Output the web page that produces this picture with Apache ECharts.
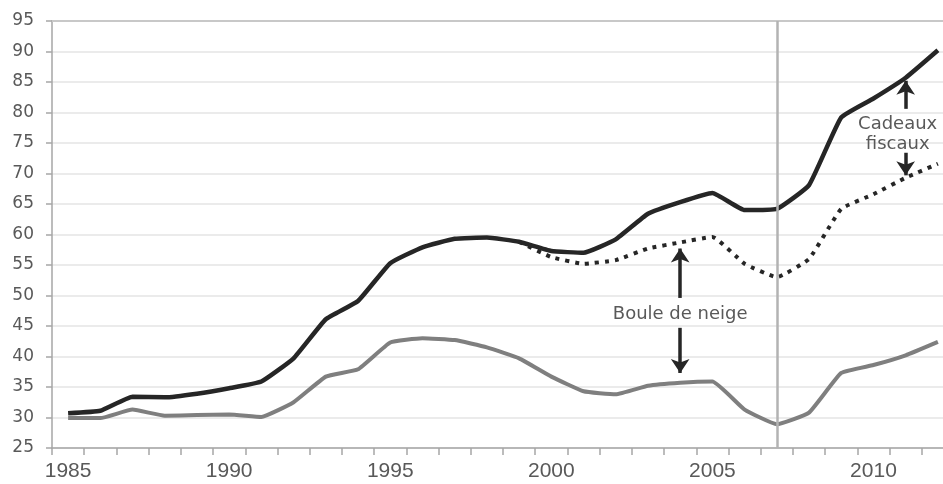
<!DOCTYPE html>
<html>
<head>
<meta charset="utf-8">
<script src="https://cdn.jsdelivr.net/npm/echarts@6/dist/echarts.min.js"></script>
<style>
html,body{margin:0;padding:0;background:#fff;overflow:hidden;width:943px;height:484px;}
#chart{width:954px;height:484px;}
</style>
</head>
<body>
<div id="chart"></div>
<script>
const years = ['1985','1986','1987','1988','1989','1990','1991','1992','1993','1994','1995','1996','1997','1998','1999','2000','2001','2002','2003','2004','2005','2006','2007','2008','2009','2010','2011','2012'];
const detteReelle = [30.7,31.1,33.4,33.3,33.9,34.8,35.9,39.7,46.1,49.1,55.3,57.9,59.3,59.5,58.8,57.3,57.0,59.2,63.4,65.3,66.8,64.0,64.2,68.1,79.2,82.3,85.7,90.2];
const detteSansCadeaux = [null,null,null,null,null,null,null,null,null,null,null,null,null,null,58.8,56.3,55.2,55.8,57.7,58.7,59.6,55.2,53.0,56.0,64.2,66.6,69.3,71.6];
const detteSansBoule = [29.9,29.9,31.3,30.3,30.4,30.5,30.1,32.5,36.7,37.9,42.3,43.0,42.7,41.5,39.7,36.7,34.3,33.8,35.2,35.7,35.9,31.3,28.9,30.8,37.3,38.6,40.2,42.4];
const yTicks = [25,95,5];
const separatorYear = '2007';
// annotation arrows: [year, from, to]
const arrows = [['2004',49.6,57.7],['2004',44.7,37.3],['2011',80.6,85.2],['2011',73.4,69.7]];
const labels = [['2004',46.9,'Boule de neige'],['2011',76.5,'Cadeaux\nfiscaux']];

const chart = echarts.init(document.getElementById('chart'));
const textColor = '#595959';
const font = 'DejaVu Sans';
chart.setOption({
  animation:false,
  grid:{left:52,top:21,right:0,bottom:36,containLabel:false},
  xAxis:[{
    type:'category',
    data:years,
    boundaryGap:true,
    axisLine:{lineStyle:{color:'#a6a6a6',width:1.5}},
    axisTick:{show:true,interval:0,length:7,lineStyle:{color:'#a6a6a6',width:1.5}},
    axisLabel:{interval:4,color:textColor,fontSize:21,fontFamily:'Liberation Sans, Arial',margin:13},
    splitLine:{show:false}
  },{
    type:'category',
    data:years,
    position:'top',
    axisLine:{show:true,lineStyle:{color:'#c8c8c8',width:2}},
    axisTick:{show:false},
    axisLabel:{show:false},
    splitLine:{show:false}
  }],
  yAxis:{
    type:'value',
    min:yTicks[0],max:yTicks[1],interval:yTicks[2],
    axisLine:{show:true,lineStyle:{color:'#a6a6a6',width:1.5}},
    axisTick:{show:true,length:6,lineStyle:{color:'#a6a6a6',width:1.5}},
    axisLabel:{color:textColor,fontSize:17,fontFamily:font,margin:18},
    splitLine:{show:true,lineStyle:{color:'#e4e4e4',width:1.5}}
  },
  series:[
    {
      type:'line',name:'sans boule de neige',data:detteSansBoule,
      symbol:'none',smooth:0.12,
      lineStyle:{color:'#7f7f7f',width:4},
      z:2
    },
    {
      type:'line',name:'sans cadeaux fiscaux',data:detteSansCadeaux,
      symbol:'none',smooth:0.12,
      lineStyle:{color:'#262626',width:4,type:[4,6]},
      z:3
    },
    {
      type:'line',name:'dette',data:detteReelle,
      symbol:'none',smooth:0.12,
      lineStyle:{color:'#262626',width:4.5},
      z:4,
      markLine:{
        silent:true,
        symbol:['none','arrow'],
        symbolSize:[14,14],
        label:{show:false},
        lineStyle:{color:'#262626',width:3.5,type:'solid'},
        data:arrows.map(a=>[{coord:[a[0],a[1]]},{coord:[a[0],a[2]]}])
      },
      markPoint:{
        silent:true,
        symbol:'rect',symbolSize:1,
        itemStyle:{color:'rgba(0,0,0,0)'},
        label:{show:true,position:'inside',color:textColor,fontSize:18,fontFamily:font,lineHeight:20,align:'center'},
        data:labels.map((l,i)=>({coord:[l[0],l[1]],value:l[2],label:{formatter:l[2],offset:i===1?[-8,0]:[0,0]}}))
      }
    },
    {
      type:'line',name:'sep',data:[],
      markLine:{
        silent:true,symbol:['none','none'],label:{show:false},
        lineStyle:{color:'#b3b3b3',width:2.5,type:'solid'},
        data:[{xAxis:separatorYear}]
      },
      z:1
    }
  ]
});
</script>
</body>
</html>
